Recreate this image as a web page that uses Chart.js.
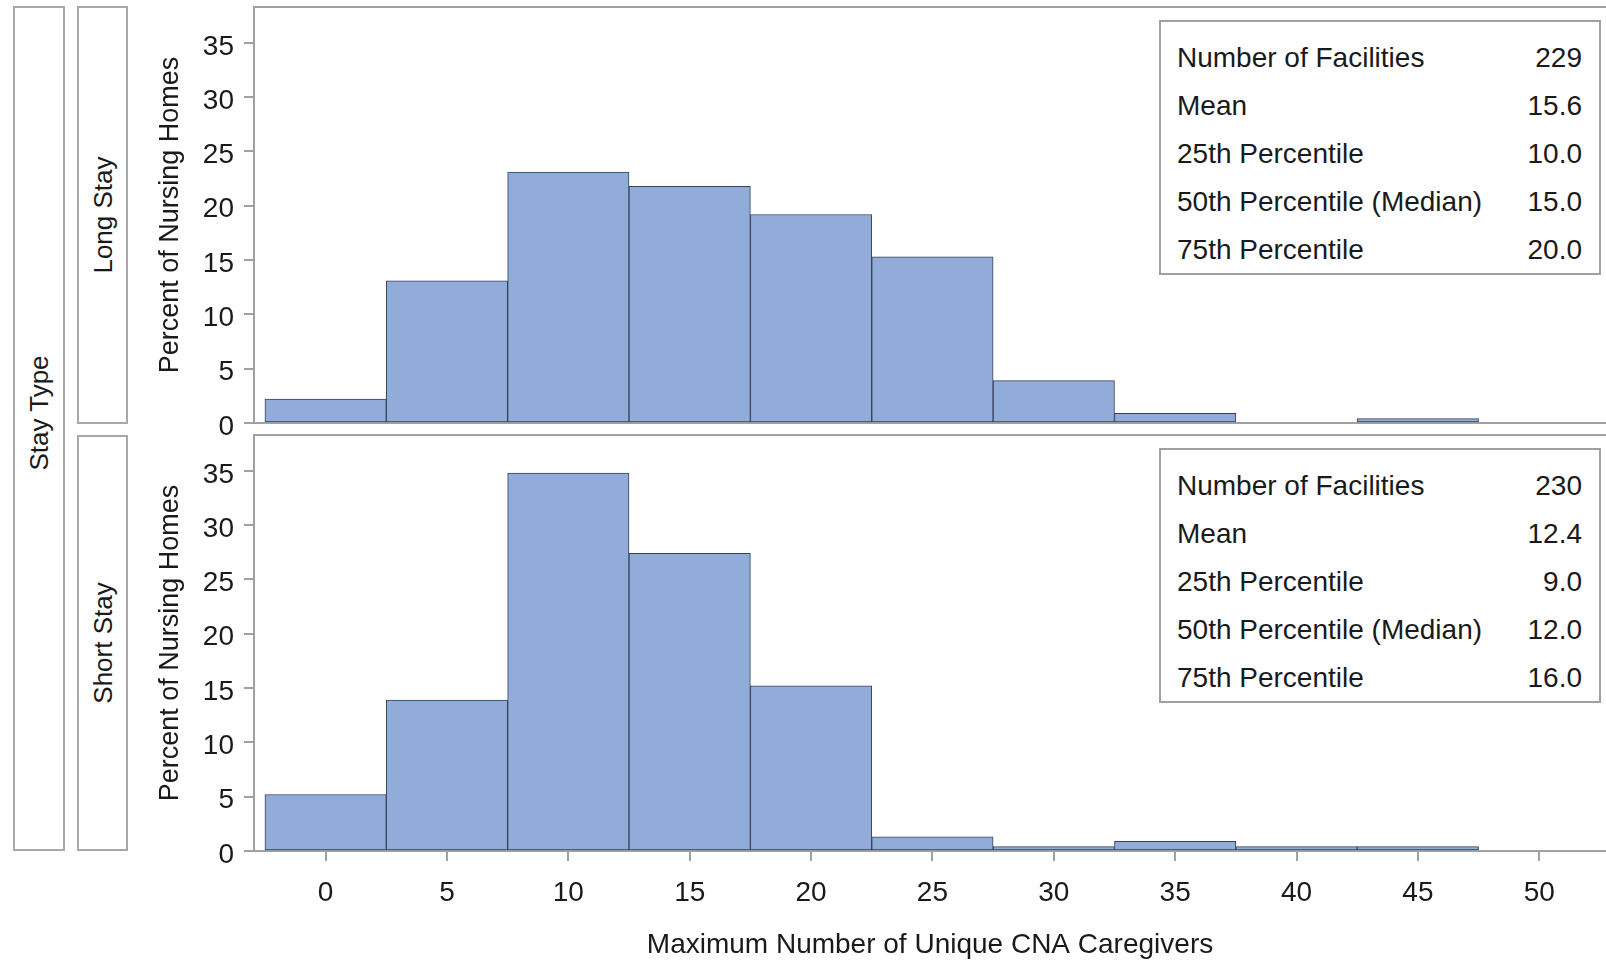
<!DOCTYPE html>
<html>
<head>
<meta charset="utf-8">
<script src="https://cdn.jsdelivr.net/npm/chart.js@4.4.1/dist/chart.umd.min.js"></script>
<style>
  body {
    margin: 0;
    width: 1606px;
    height: 963px;
    overflow: hidden;
    position: relative;
    background: #ffffff;
    font-family: 'Liberation Sans', Arial, sans-serif;
    color: #1a1a1a;
  }
  .strip {
    position: absolute;
    box-sizing: border-box;
    border: 2px solid #a8a8a8;
  }
  .strip span {
    position: absolute;
    left: 50%;
    transform: translate(-50%, -50%) rotate(-90deg);
    font-size: 26px;
    white-space: nowrap;
  }
  .stats {
    position: absolute;
    box-sizing: border-box;
    left: 1159px;
    width: 442px;
    height: 255px;
    border: 2px solid #a0a0a0;
    padding: 12px 17px 0 16px;
    font-size: 28px;
    background: #ffffff;
  }
  .stats div {
    display: flex;
    justify-content: space-between;
    height: 47.9px;
    line-height: 47.9px;
  }
  canvas {
    position: absolute;
    left: 0;
  }
</style>
</head>
<body>
<div class="strip" style="left:13px; top:6px; width:52px; height:845px;"><span style="top:405px;">Stay Type</span></div>
<div class="strip" style="left:77px; top:6px; width:51px; height:418px;"><span style="top:50%;">Long Stay</span></div>
<div class="strip" style="left:77px; top:435px; width:51px; height:416px;"><span style="top:50%;">Short Stay</span></div>

<canvas id="longChart" width="1606" height="445" style="top:0px;"></canvas>
<canvas id="shortChart" width="1606" height="533" style="top:430px;"></canvas>

<div class="stats" id="longStats" style="top:20px;"></div>
<div class="stats" id="shortStats" style="top:448px;"></div>

<script>
// histogram bins (midpoints, width 5)
const binCenters = [0, 5, 10, 15, 20, 25, 30, 35, 40, 45];
const longStayPct = [2.2, 13.1, 23.1, 21.8, 19.2, 15.3, 3.9, 0.9, 0, 0.4];
const shortStayPct = [5.2, 13.9, 34.8, 27.4, 15.2, 1.3, 0.4, 0.9, 0.4, 0.4];

const xTicks = [0, 5, 10, 15, 20, 25, 30, 35, 40, 45, 50];
const yTicks = [0, 5, 10, 15, 20, 25, 30, 35];

const statLabels = ['Number of Facilities', 'Mean', '25th Percentile', '50th Percentile (Median)', '75th Percentile'];
const longStats = ['229', '15.6', '10.0', '15.0', '20.0'];
const shortStats = ['230', '12.4', '9.0', '12.0', '16.0'];

const FONT = "'Liberation Sans', Arial, sans-serif";
const TEXT = '#1a1a1a';
const AXIS_GRAY = '#a0a0a0';
const BAR_FILL = '#91acd8';
const BAR_EDGE = '#34425a';
const X_MIN = -2.95;
const X_MAX = 52.75;
const Y_MAX = 38.3;

function fillStats(id, values) {
  document.getElementById(id).innerHTML = statLabels
    .map((label, i) => `<div><span>${label}</span><span>${values[i]}</span></div>`)
    .join('');
}

fillStats('longStats', longStats);
fillStats('shortStats', shortStats);

// top edge of each panel
const panelFrame = {
  id: 'panelFrame',
  afterDraw(chart) {
    const { ctx, chartArea } = chart;
    ctx.save();
    ctx.strokeStyle = AXIS_GRAY;
    ctx.lineWidth = 2;
    ctx.beginPath();
    ctx.moveTo(chartArea.left - 1, chartArea.top);
    ctx.lineTo(chartArea.right, chartArea.top);
    ctx.stroke();
    ctx.restore();
  },
};

// no label overhang padding, so the plot area sits where the layout says
function noOverhang(scale) {
  scale.paddingTop = 0;
  scale.paddingBottom = 0;
  scale.paddingLeft = 0;
  scale.paddingRight = 0;
}

function yScale() {
  return {
    min: 0,
    max: Y_MAX,
    afterBuildTicks: (scale) => {
      scale.ticks = yTicks.map((value) => ({ value }));
    },
    grid: { display: true, drawOnChartArea: false, drawTicks: true, tickLength: 10, color: AXIS_GRAY, lineWidth: 2 },
    border: { display: true, color: AXIS_GRAY, width: 2 },
    ticks: { font: { family: FONT, size: 28 }, color: TEXT, padding: 10, labelOffset: 4 },
    title: {
      display: true,
      text: 'Percent of Nursing Homes',
      font: { family: FONT, size: 27 },
      color: TEXT,
      padding: { top: 154, bottom: 0 },
    },
    afterFit: (scale) => {
      scale.width = 254;
      noOverhang(scale);
    },
  };
}

function xScale(showTicks, height) {
  return {
    type: 'linear',
    min: X_MIN,
    max: X_MAX,
    offset: false,
    afterBuildTicks: (scale) => {
      scale.ticks = xTicks.map((value) => ({ value }));
    },
    grid: { display: showTicks, offset: false, drawOnChartArea: false, drawTicks: true, tickLength: 10, color: AXIS_GRAY, lineWidth: 2 },
    border: { display: true, color: AXIS_GRAY, width: 2 },
    ticks: { display: showTicks, font: { family: FONT, size: 28 }, color: TEXT, padding: 15, maxRotation: 0, autoSkip: false },
    title: {
      display: showTicks,
      text: 'Maximum Number of Unique CNA Caregivers',
      font: { family: FONT, size: 28 },
      color: TEXT,
      padding: { top: 0, bottom: 1 },
    },
    afterFit: (scale) => {
      scale.height = height;
      noOverhang(scale);
    },
  };
}

function histogram(values) {
  return {
    datasets: [
      {
        data: binCenters.map((x, i) => ({ x, y: values[i] })),
        backgroundColor: BAR_FILL,
        borderColor: BAR_EDGE,
        borderWidth: 1,
        borderSkipped: false,
        barPercentage: 1,
        categoryPercentage: 1,
      },
    ],
  };
}

new Chart(document.getElementById('longChart'), {
  type: 'bar',
  data: histogram(longStayPct),
  options: {
    responsive: false,
    animation: false,
    layout: { padding: { left: 0, right: 0, top: 7, bottom: 22 } },
    plugins: { legend: { display: false }, tooltip: { enabled: false } },
    scales: {
      x: xScale(false, 0),
      y: yScale(),
    },
  },
  plugins: [panelFrame],
});

new Chart(document.getElementById('shortChart'), {
  type: 'bar',
  data: histogram(shortStayPct),
  options: {
    responsive: false,
    animation: false,
    layout: { padding: { left: 0, right: 0, top: 5, bottom: 0 } },
    plugins: { legend: { display: false }, tooltip: { enabled: false } },
    scales: {
      x: xScale(true, 112),
      y: yScale(),
    },
  },
  plugins: [panelFrame],
});
</script>
</body>
</html>
